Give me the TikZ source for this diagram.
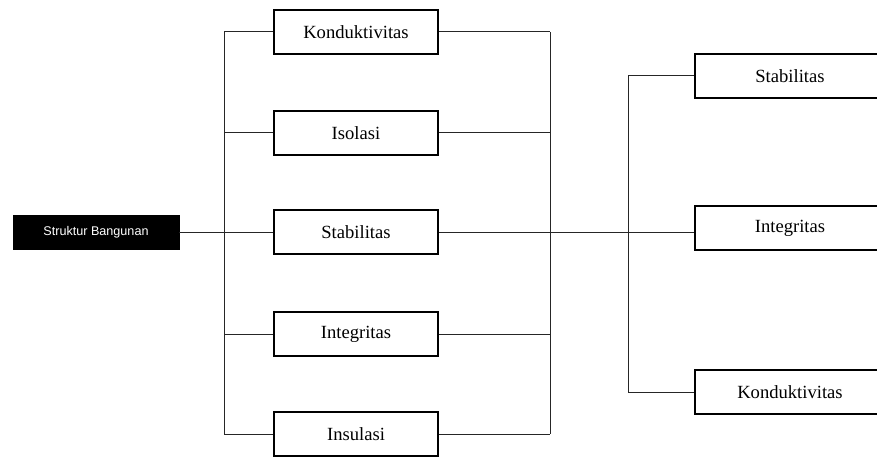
\documentclass[tikz,border=0pt]{standalone}
\usepackage{fontspec}
\setmainfont{Liberation Serif}
\newfontfamily\labelsans{Liberation Sans}
\begin{document}
\begin{tikzpicture}[x=1pt,y=-1pt,
  box/.style={draw=black, line width=1.6pt, fill=white, minimum width=164pt,
    minimum height=44pt, inner sep=0pt, font=\fontsize{18.6}{21}\selectfont},
  rbox/.style={box, minimum width=190pt},
  rootbox/.style={draw=black, fill=black, text=white, minimum width=166pt,
    minimum height=34pt, inner sep=0pt, font=\labelsans\fontsize{12.6}{14}\selectfont},
  conn/.style={draw=black!85, line width=1pt}]
\useasboundingbox (0,0) rectangle (877,457);
\clip (0,0) rectangle (877,457);

% bus and spine positions
\coordinate (lt) at (224,32);
\coordinate (lb) at (224,434);
\coordinate (rt) at (550,32);
\coordinate (rb) at (550,434);
\coordinate (sp) at (628,0);

% root
\node[rootbox] (root) at (96,232) {Struktur Bangunan};

% middle column
\node[box] (m1) at (356,32)  {Konduktivitas};
\node[box] (m2) at (356,133) {Isolasi};
\node[box] (m3) at (356,232) {Stabilitas};
\node[box] (m4) at (356,334) {Integritas};
\node[box] (m5) at (356,434) {Insulasi};

% right column (runs past the right edge)
\node[rbox] (r1) at (790,76)  {Stabilitas};
\node[rbox] (r2) at (790,228) {Integritas};
\node[rbox] (r3) at (790,392) {Konduktivitas};

% vertical buses
\draw[conn] (lt) -- (lb);
\draw[conn] (rt) -- (rb);

% middle boxes to buses
\foreach \m in {m1,m2,m4,m5}{
  \draw[conn] (\m.west) -- (\m.west -| lt);
  \draw[conn] (\m.east) -- (\m.east -| rt);
}

% main line
\draw[conn] (root.east) -- (m3.west);
\draw[conn] (m3.east) -- (m3.east -| r2.west);

% spine to the right column
\draw[conn] (r1.west) -- (r1.west -| sp) -- (r3.west -| sp) -- (r3.west);
\end{tikzpicture}
\end{document}
